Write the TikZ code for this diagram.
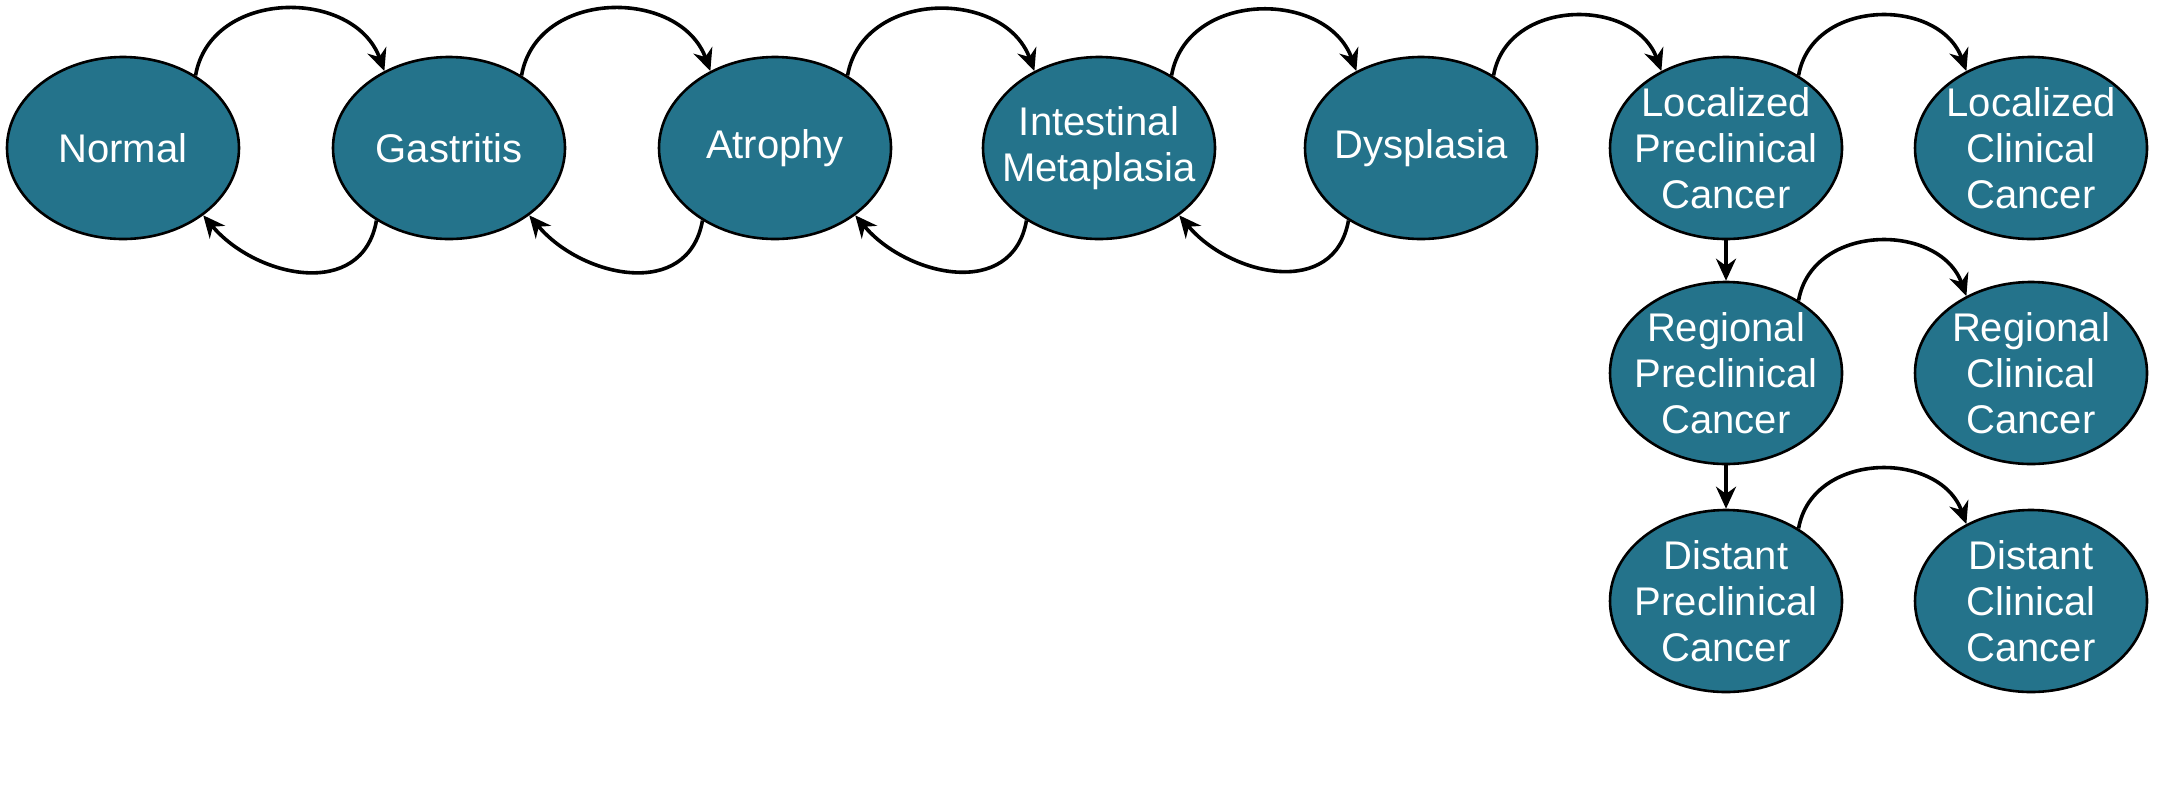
\documentclass[tikz,border=0pt]{standalone}
\usepackage{fontspec}
\setmainfont{Liberation Sans}
\usetikzlibrary{arrows.meta,shapes.geometric}
\definecolor{teal1}{HTML}{24738B}
\begin{document}
\begin{tikzpicture}[x=0.5pt,y=-0.5pt,
  st/.style={ellipse,draw=black,line width=1.3pt,fill=teal1,minimum width=116pt,minimum height=91pt,inner sep=0pt,
    label={[text=white,align=center,font=\fontsize{20}{23}\selectfont]center:#1}},
  ar/.style={-{Stealth[length=11pt,width=10pt]},line width=1.8pt}]
\useasboundingbox (0,0) rectangle (2166,800);
\node[st={Normal}] (n) at (123,148) {};
\node[st={Gastritis}] (g) at (449,148) {};
\node[st={Atrophy}] (a) at (775,148) {};
\node[st={Intestinal\\Metaplasia}] (i) at (1099,148) {};
\node[st={Dysplasia}] (d) at (1421,148) {};
\node[st={Localized\\Preclinical\\Cancer}] (lp) at (1726,148) {};
\node[st={Localized\\Clinical\\Cancer}] (lc) at (2031,148) {};
\node[st={Regional\\Preclinical\\Cancer}] (rp) at (1726,373) {};
\node[st={Regional\\Clinical\\Cancer}] (rc) at (2031,373) {};
\node[st={Distant\\Preclinical\\Cancer}] (dp) at (1726,601) {};
\node[st={Distant\\Clinical\\Cancer}] (dc) at (2031,601) {};
\foreach \u/\v in {n/g,g/a,a/i,i/d}{
  \draw[ar] (\u.45) to[out=80,in=110,looseness=1.2] (\v.130);
  \draw[ar] (\v.225) to[out=-100,in=-50,looseness=1.2] (\u.-40);
}
\foreach \u/\v in {d/lp,lp/lc,rp/rc,dp/dc}{
  \draw[ar] (\u.45) to[out=80,in=110,looseness=1.2] (\v.130);
}
\draw[ar] (lp) -- (rp);
\draw[ar] (rp) -- (dp);
\end{tikzpicture}
\end{document}
